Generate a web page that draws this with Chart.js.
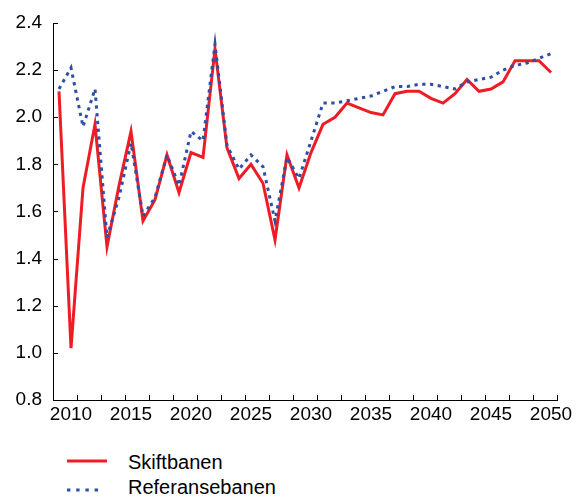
<!DOCTYPE html>
<html>
<head>
<meta charset="utf-8">
<script src="https://cdn.jsdelivr.net/npm/chart.js@4.4.0/dist/chart.umd.min.js"></script>
<style>
  body { margin: 0; background: #fff; font-family: "Liberation Sans", Arial, sans-serif; }
  #wrap { position: relative; width: 576px; height: 497px; }
  #box { position: absolute; left: 0; top: 0; width: 576px; height: 430px; }
  .leg { position: absolute; left: 0; font-size: 20px; color: #000; }
  .leg svg { position: absolute; left: 67px; }
  .leg span { position: absolute; left: 128px; white-space: nowrap; }
</style>
</head>
<body>
<div id="wrap">
  <div id="box"><canvas id="grafico"></canvas></div>
  <div class="leg" style="top:451px">
    <svg width="42" height="20" style="top:0"><line x1="0" y1="10" x2="40" y2="10" stroke="#ee1c25" stroke-width="3"/></svg>
    <span style="top:0">Skiftbanen</span>
  </div>
  <div class="leg" style="top:476px">
    <svg width="42" height="20" style="top:4px"><line x1="0" y1="10" x2="31" y2="10" stroke="#2e4fa5" stroke-width="3" stroke-dasharray="3.4,5.8"/></svg>
    <span style="top:0">Referansebanen</span>
  </div>
</div>
<script>
// Kategorier (år)
const aar = [2009, 2010, 2011, 2012, 2013, 2014, 2015, 2016, 2017, 2018,
             2019, 2020, 2021, 2022, 2023, 2024, 2025, 2026, 2027, 2028,
             2029, 2030, 2031, 2032, 2033, 2034, 2035, 2036, 2037, 2038,
             2039, 2040, 2041, 2042, 2043, 2044, 2045, 2046, 2047, 2048,
             2049, 2050];

// Skiftbanen (rød heltrukken)
const skiftbanen = [2.11, 1.02, 1.70, 1.97, 1.45, 1.71, 1.94, 1.56, 1.65, 1.84,
                    1.68, 1.85, 1.83, 2.29, 1.87, 1.74, 1.80, 1.72, 1.48, 1.84,
                    1.70, 1.85, 1.97, 2.00, 2.06, 2.04, 2.02, 2.01, 2.10, 2.11,
                    2.11, 2.08, 2.06, 2.10, 2.16, 2.11, 2.12, 2.15, 2.24, 2.24,
                    2.24, 2.19];

// Referansebanen (blå prikket)
const referansebanen = [2.12, 2.21, 1.96, 2.12, 1.49, 1.66, 1.89, 1.58, 1.66, 1.84,
                        1.71, 1.94, 1.90, 2.31, 1.88, 1.78, 1.84, 1.79, 1.56, 1.83,
                        1.74, 1.90, 2.06, 2.06, 2.07, 2.08, 2.09, 2.11, 2.13, 2.13,
                        2.14, 2.14, 2.13, 2.12, 2.15, 2.16, 2.17, 2.20, 2.22, 2.23,
                        2.25, 2.27];

// Y-akse ticks
const yMin = 0.8, yMax = 2.4, yStep = 0.2;

// Små tick-merker som peker innover (som i Excel)
const innoverTicks = {
    id: 'innoverTicks',
    afterDraw(chart) {
        const ctx = chart.ctx;
        const x = chart.scales.x, y = chart.scales.y;
        const area = chart.chartArea;
        ctx.save();
        ctx.strokeStyle = '#000';
        ctx.lineWidth = 1;
        ctx.beginPath();
        y.ticks.forEach(t => {
            const py = Math.round(y.getPixelForValue(t.value)) + 0.5;
            ctx.moveTo(area.left, py);
            ctx.lineTo(area.left + 5, py);
        });
        const halv = (x.getPixelForValue(1) - x.getPixelForValue(0)) / 2;
        for (let k = 2; k <= aar.length; k += 2) {
            const px = Math.round(x.getPixelForValue(k) - halv) + 0.5;
            ctx.moveTo(px, area.bottom);
            ctx.lineTo(px, area.bottom - 5);
        }
        ctx.stroke();
        ctx.restore();
    }
};

const fontAkse = { family: '"Liberation Sans", Arial, sans-serif', size: 19 };

new Chart(document.getElementById('grafico').getContext('2d'), {
    type: 'line',
    data: {
        labels: aar,
        datasets: [
            {
                label: 'Referansebanen',
                data: referansebanen,
                borderColor: '#2e4fa5',
                borderWidth: 3,
                borderDash: [3.3, 4.5],
                pointRadius: 0,
                tension: 0,
                fill: false
            },
            {
                label: 'Skiftbanen',
                data: skiftbanen,
                borderColor: '#ee1c25',
                borderWidth: 3,
                pointRadius: 0,
                tension: 0,
                fill: false
            }
        ]
    },
    options: {
        responsive: true,
        maintainAspectRatio: false,
        animation: false,
        layout: { padding: { top: 23, right: 19, bottom: 0, left: 0 } },
        plugins: {
            legend: { display: false },
            tooltip: { enabled: false }
        },
        scales: {
            x: {
                type: 'category',
                offset: true,
                grid: { display: false, drawTicks: false },
                border: { display: true, color: '#000', width: 1 },
                ticks: {
                    autoSkip: false,
                    maxRotation: 0,
                    minRotation: 0,
                    padding: 3,
                    color: '#000',
                    font: fontAkse,
                    callback: function(val, i) {
                        return aar[i] % 5 === 0 ? String(aar[i]) : '';
                    }
                },
                afterFit: function(scale) { scale.height = 30; }
            },
            y: {
                min: yMin,
                max: yMax,
                grid: { display: false, drawTicks: false },
                border: { display: true, color: '#000', width: 1 },
                ticks: {
                    stepSize: yStep,
                    padding: 11,
                    color: '#000',
                    font: fontAkse,
                    callback: v => v.toFixed(1)
                },
                afterFit: function(scale) { scale.width = 53; }
            }
        }
    },
    plugins: [innoverTicks]
});
</script>
</body>
</html>
